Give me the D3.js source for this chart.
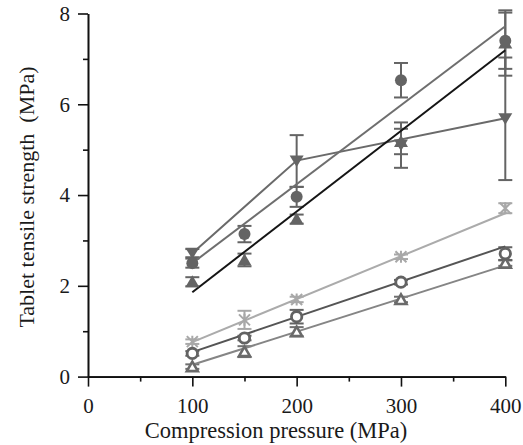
<!DOCTYPE html>
<html><head><meta charset="utf-8">
<script src="https://cdn.jsdelivr.net/npm/d3@7"></script>
<style>body{margin:0;background:#fff}svg{display:block}</style>
</head><body>
<svg id="c" width="523" height="445"></svg>
<script>
// ---- data ----
const xTicks = [0, 100, 200, 300, 400];
const xMinor = [50, 150, 250, 350];
const yTicks = [0, 2, 4, 6, 8];
const yMinor = [1, 3, 5, 7];
const xTitle = "Compression pressure (MPa)";
const yTitle = "Tablet tensile strength\u00a0\u00a0(MPa)";

// filled circle series
const circX = [100, 150, 200, 300, 400];
const circY = [2.50, 3.14, 3.96, 6.53, 7.40];
const circE = [0.10, 0.18, 0.22, 0.38, 0.62];
const circFitX = [100, 400];
const circFitY = [2.50, 7.72];
// filled up-triangle series
const triX = [100, 150, 200, 300, 400];
const triY = [2.09, 2.57, 3.47, 5.18, 7.35];
const triE = [0.10, 0.14, 0.10, 0.28, 0.72];
const triFitX = [100, 400];
const triFitY = [1.86, 7.19];
// filled down-triangle series
const dtriX = [100, 200, 300, 400];
const dtriY = [2.72, 4.75, 5.10, 5.68];
const dtriE = [0.09, 0.57, 0.50, 1.35];
const dtriLineX = [100, 200, 400];
const dtriLineY = [2.72, 4.76, 5.69];
// cross series
const crossX = [100, 150, 200, 300, 400];
const crossY = [0.77, 1.25, 1.70, 2.64, 3.71];
const crossE = [0.05, 0.20, 0.06, 0.05, 0.11];
const crossFitX = [100, 400];
const crossFitY = [0.76, 3.60];
// open circle series
const ocircX = [100, 150, 200, 300, 400];
const ocircY = [0.51, 0.85, 1.32, 2.08, 2.71];
const ocircE = [0.05, 0.05, 0.15, 0.05, 0.14];
const ocircFitX = [100, 400];
const ocircFitY = [0.54, 2.87];
// open triangle series
const otriX = [100, 150, 200, 300, 400];
const otriY = [0.22, 0.55, 0.99, 1.70, 2.50];
const otriE = [0.05, 0.12, 0.10, 0.06, 0.06];
const otriFitX = [100, 400];
const otriFitY = [0.26, 2.45];

// ---- drawing ----
const svg = d3.select("#c");
const font = "'Liberation Serif','Times New Roman',serif";
const x = d3.scaleLinear([0, 400], [88, 505.3]);
const y = d3.scaleLinear([0, 8], [376.6, 13.5]);

function zip(xs, ys) { return xs.map((v, i) => [v, ys[i]]); }
const line = d3.line().x(d => x(d[0])).y(d => y(d[1]));

const lines = [
  { xs: otriFitX, ys: otriFitY, c: "#858585", w: 2 },
  { xs: ocircFitX, ys: ocircFitY, c: "#555555", w: 2 },
  { xs: crossFitX, ys: crossFitY, c: "#ababab", w: 2 },
  { xs: dtriLineX, ys: dtriLineY, c: "#6a6a6a", w: 2 },
  { xs: circFitX, ys: circFitY, c: "#6e6e6e", w: 2 },
  { xs: triFitX, ys: triFitY, c: "#151515", w: 2 },
];

function errbars(xs, ys, es, c) {
  const g = svg.append("g").attr("stroke", c).attr("stroke-width", 2).attr("fill", "none");
  xs.forEach((v, i) => {
    const px = x(v), t = y(ys[i] + es[i]), b = y(ys[i] - es[i]);
    g.append("line").attr("x1", px).attr("x2", px).attr("y1", t).attr("y2", b);
    g.append("line").attr("x1", px - 7).attr("x2", px + 7).attr("y1", t).attr("y2", t);
    g.append("line").attr("x1", px - 7).attr("x2", px + 7).attr("y1", b).attr("y2", b);
  });
}
errbars(otriX, otriY, otriE, "#707070");
errbars(ocircX, ocircY, ocircE, "#636363");
errbars(crossX, crossY, crossE, "#a8a8a8");
errbars(triX, triY, triE, "#646464");
errbars(dtriX, dtriY, dtriE, "#646464");
errbars(circX, circY, circE, "#646464");

lines.forEach(l => {
  svg.append("path").attr("d", line(zip(l.xs, l.ys))).attr("fill", "none")
    .attr("stroke", l.c).attr("stroke-width", l.w);
});

// markers
const upTri = "M0,-6.5L7,5.5L-7,5.5Z";
const downTri = "M0,6L7,-5.5L-7,-5.5Z";
const oTri = "M0,-5L5.5,4.5L-5.5,4.5Z";
svg.append("g").selectAll("path").data(zip(triX, triY)).join("path")
  .attr("d", upTri).attr("transform", d => `translate(${x(d[0])},${y(d[1])})`).attr("fill", "#646464");
svg.append("g").selectAll("path").data(zip(dtriX, dtriY)).join("path")
  .attr("d", downTri).attr("transform", d => `translate(${x(d[0])},${y(d[1])})`).attr("fill", "#646464");
svg.append("g").selectAll("circle").data(zip(circX, circY)).join("circle")
  .attr("cx", d => x(d[0])).attr("cy", d => y(d[1])).attr("r", 6).attr("fill", "#646464");
svg.append("g").selectAll("path").data(zip(crossX, crossY)).join("path")
  .attr("d", "M-5.5,-5.5L5.5,5.5M5.5,-5.5L-5.5,5.5M0,-6L0,6")
  .attr("transform", d => `translate(${x(d[0])},${y(d[1])})`).attr("stroke", "#a8a8a8").attr("stroke-width", 2).attr("fill", "none");
svg.append("g").selectAll("path").data(zip(otriX, otriY)).join("path")
  .attr("d", oTri).attr("transform", d => `translate(${x(d[0])},${y(d[1])})`)
  .attr("fill", "#fff").attr("stroke", "#6a6a6a").attr("stroke-width", 2.6);
svg.append("g").selectAll("circle").data(zip(ocircX, ocircY)).join("circle")
  .attr("cx", d => x(d[0])).attr("cy", d => y(d[1])).attr("r", 5.2)
  .attr("fill", "#fff").attr("stroke", "#636363").attr("stroke-width", 2.8);

// axes
function styleAxis(g, fs) {
  g.selectAll("path.domain").attr("stroke", "#111").attr("stroke-width", 1.6);
  g.selectAll(".tick line").attr("stroke", "#111").attr("stroke-width", 1.6);
  g.selectAll("text").attr("font-family", font).attr("font-size", fs).attr("fill", "#1a1a1a");
}
const xMinorG = svg.append("g").attr("transform", `translate(0,${y(0)})`)
  .call(d3.axisBottom(x).tickValues(xMinor).tickSize(5).tickSizeOuter(0).tickFormat(""));
styleAxis(xMinorG, 21);
const xG = svg.append("g").attr("transform", `translate(0,${y(0)})`)
  .call(d3.axisBottom(x).tickValues(xTicks).tickSize(10).tickPadding(11).tickSizeOuter(0).tickFormat(d3.format("d")));
styleAxis(xG, 21);
const yMinorG = svg.append("g").attr("transform", `translate(${x(0)},0)`)
  .call(d3.axisLeft(y).tickValues(yMinor).tickSize(5).tickSizeOuter(0).tickFormat(""));
styleAxis(yMinorG, 21);
const yG = svg.append("g").attr("transform", `translate(${x(0)},0)`)
  .call(d3.axisLeft(y).tickValues(yTicks).tickSize(10).tickPadding(8).tickSizeOuter(0).tickFormat(d3.format("d")));
styleAxis(yG, 21);

svg.append("text").attr("x", 276).attr("y", 437.5).attr("text-anchor", "middle")
  .attr("font-family", font).attr("font-size", 22.5).attr("fill", "#1a1a1a").text(xTitle);
svg.append("text").attr("transform", "translate(34,197) rotate(-90)").attr("text-anchor", "middle")
  .attr("font-family", font).attr("font-size", 22).attr("fill", "#1a1a1a").text(yTitle);
</script>
</body></html>
